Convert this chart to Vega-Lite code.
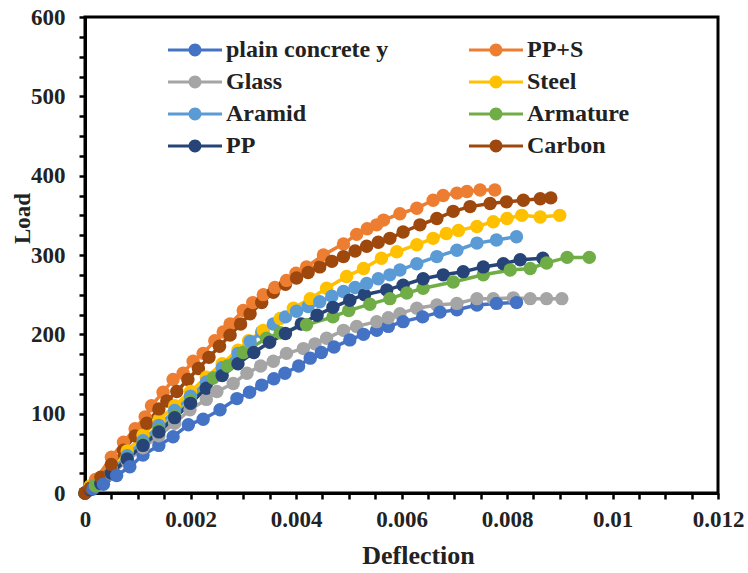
{
  "$schema": "https://vega.github.io/schema/vega-lite/v6.json",
  "width": 633,
  "height": 476,
  "autosize": {"type": "none"},
  "padding": {"left": 85, "top": 17, "right": 30, "bottom": 80},
  "background": "white",
  "config": {
    "view": {"stroke": "black", "strokeWidth": 3},
    "font": "Liberation Serif"
  },
  "datasets": {
    "d": [
      {"s":"plain concrete y","x":0,"y":0},{"s":"plain concrete y","x":0.00015,"y":5},{"s":"plain concrete y","x":0.00035,"y":11},{"s":"plain concrete y","x":0.0006,"y":22},{"s":"plain concrete y","x":0.00085,"y":33},{"s":"plain concrete y","x":0.0011,"y":48},{"s":"plain concrete y","x":0.0014,"y":60},{"s":"plain concrete y","x":0.00167,"y":71},{"s":"plain concrete y","x":0.00196,"y":86},{"s":"plain concrete y","x":0.00224,"y":93},{"s":"plain concrete y","x":0.00256,"y":105},{"s":"plain concrete y","x":0.00288,"y":119},{"s":"plain concrete y","x":0.00312,"y":127},{"s":"plain concrete y","x":0.00335,"y":136},{"s":"plain concrete y","x":0.00358,"y":144},{"s":"plain concrete y","x":0.00379,"y":151},{"s":"plain concrete y","x":0.00405,"y":160},{"s":"plain concrete y","x":0.00427,"y":170},{"s":"plain concrete y","x":0.00448,"y":177},{"s":"plain concrete y","x":0.00472,"y":184},{"s":"plain concrete y","x":0.00502,"y":193},{"s":"plain concrete y","x":0.00528,"y":200},{"s":"plain concrete y","x":0.00553,"y":205},{"s":"plain concrete y","x":0.00575,"y":210},{"s":"plain concrete y","x":0.00603,"y":216},{"s":"plain concrete y","x":0.0064,"y":222},{"s":"plain concrete y","x":0.00673,"y":228},{"s":"plain concrete y","x":0.00705,"y":231},{"s":"plain concrete y","x":0.00743,"y":237},{"s":"plain concrete y","x":0.0078,"y":239},{"s":"plain concrete y","x":0.00818,"y":240},

      {"s":"PP+S","x":0,"y":0},{"s":"PP+S","x":0.0002,"y":17},{"s":"PP+S","x":0.0005,"y":45},{"s":"PP+S","x":0.00073,"y":64},{"s":"PP+S","x":0.00095,"y":81},{"s":"PP+S","x":0.00114,"y":96},{"s":"PP+S","x":0.00126,"y":110},{"s":"PP+S","x":0.00148,"y":127},{"s":"PP+S","x":0.00167,"y":143},{"s":"PP+S","x":0.00186,"y":151},{"s":"PP+S","x":0.00205,"y":166},{"s":"PP+S","x":0.00224,"y":176},{"s":"PP+S","x":0.00246,"y":192},{"s":"PP+S","x":0.00262,"y":203},{"s":"PP+S","x":0.00275,"y":213},{"s":"PP+S","x":0.003,"y":230},{"s":"PP+S","x":0.00318,"y":240},{"s":"PP+S","x":0.00338,"y":250},{"s":"PP+S","x":0.0036,"y":259},{"s":"PP+S","x":0.00382,"y":268},{"s":"PP+S","x":0.004,"y":277},{"s":"PP+S","x":0.0042,"y":285},{"s":"PP+S","x":0.00452,"y":300},{"s":"PP+S","x":0.0049,"y":314},{"s":"PP+S","x":0.00515,"y":326},{"s":"PP+S","x":0.00535,"y":333},{"s":"PP+S","x":0.00553,"y":338},{"s":"PP+S","x":0.00566,"y":344},{"s":"PP+S","x":0.00597,"y":352},{"s":"PP+S","x":0.00629,"y":359},{"s":"PP+S","x":0.0066,"y":369},{"s":"PP+S","x":0.00679,"y":375},{"s":"PP+S","x":0.00705,"y":378},{"s":"PP+S","x":0.00724,"y":380},{"s":"PP+S","x":0.00749,"y":382},{"s":"PP+S","x":0.00777,"y":382},

      {"s":"Glass","x":0,"y":0},{"s":"Glass","x":0.0002,"y":9},{"s":"Glass","x":0.0005,"y":24},{"s":"Glass","x":0.0008,"y":40},{"s":"Glass","x":0.0011,"y":57},{"s":"Glass","x":0.0014,"y":72},{"s":"Glass","x":0.0017,"y":88},{"s":"Glass","x":0.00199,"y":105},{"s":"Glass","x":0.0023,"y":118},{"s":"Glass","x":0.0025,"y":128},{"s":"Glass","x":0.00281,"y":138},{"s":"Glass","x":0.00307,"y":151},{"s":"Glass","x":0.00333,"y":160},{"s":"Glass","x":0.00357,"y":166},{"s":"Glass","x":0.00382,"y":176},{"s":"Glass","x":0.00414,"y":182},{"s":"Glass","x":0.00436,"y":188},{"s":"Glass","x":0.00458,"y":195},{"s":"Glass","x":0.0049,"y":205},{"s":"Glass","x":0.00515,"y":210},{"s":"Glass","x":0.00553,"y":216},{"s":"Glass","x":0.00575,"y":221},{"s":"Glass","x":0.00597,"y":226},{"s":"Glass","x":0.00629,"y":233},{"s":"Glass","x":0.00667,"y":237},{"s":"Glass","x":0.00705,"y":239},{"s":"Glass","x":0.00743,"y":245},{"s":"Glass","x":0.00774,"y":245},{"s":"Glass","x":0.00812,"y":246},{"s":"Glass","x":0.00844,"y":245},{"s":"Glass","x":0.00875,"y":245},{"s":"Glass","x":0.00904,"y":245},

      {"s":"Steel","x":0,"y":0},{"s":"Steel","x":0.0001,"y":9},{"s":"Steel","x":0.0003,"y":20},{"s":"Steel","x":0.0005,"y":34},{"s":"Steel","x":0.0008,"y":53},{"s":"Steel","x":0.0011,"y":73},{"s":"Steel","x":0.0014,"y":92},{"s":"Steel","x":0.0017,"y":110},{"s":"Steel","x":0.002,"y":128},{"s":"Steel","x":0.0023,"y":146},{"s":"Steel","x":0.0026,"y":163},{"s":"Steel","x":0.0029,"y":180},{"s":"Steel","x":0.0031,"y":192},{"s":"Steel","x":0.00338,"y":205},{"s":"Steel","x":0.0037,"y":220},{"s":"Steel","x":0.00395,"y":233},{"s":"Steel","x":0.00427,"y":245},{"s":"Steel","x":0.00458,"y":258},{"s":"Steel","x":0.00496,"y":273},{"s":"Steel","x":0.00528,"y":283},{"s":"Steel","x":0.00562,"y":296},{"s":"Steel","x":0.00591,"y":304},{"s":"Steel","x":0.00629,"y":313},{"s":"Steel","x":0.0066,"y":321},{"s":"Steel","x":0.00685,"y":327},{"s":"Steel","x":0.00708,"y":331},{"s":"Steel","x":0.00743,"y":336},{"s":"Steel","x":0.00774,"y":342},{"s":"Steel","x":0.008,"y":346},{"s":"Steel","x":0.00828,"y":350},{"s":"Steel","x":0.00863,"y":348},{"s":"Steel","x":0.009,"y":350},

      {"s":"Aramid","x":0,"y":0},{"s":"Aramid","x":0.0002,"y":10},{"s":"Aramid","x":0.0005,"y":28},{"s":"Aramid","x":0.0008,"y":47},{"s":"Aramid","x":0.0011,"y":66},{"s":"Aramid","x":0.0014,"y":85},{"s":"Aramid","x":0.0017,"y":104},{"s":"Aramid","x":0.002,"y":122},{"s":"Aramid","x":0.0023,"y":140},{"s":"Aramid","x":0.0026,"y":158},{"s":"Aramid","x":0.0029,"y":176},{"s":"Aramid","x":0.00313,"y":191},{"s":"Aramid","x":0.00335,"y":203},{"s":"Aramid","x":0.00357,"y":213},{"s":"Aramid","x":0.0038,"y":222},{"s":"Aramid","x":0.00401,"y":229},{"s":"Aramid","x":0.00423,"y":235},{"s":"Aramid","x":0.00445,"y":241},{"s":"Aramid","x":0.00468,"y":248},{"s":"Aramid","x":0.0049,"y":254},{"s":"Aramid","x":0.00512,"y":259},{"s":"Aramid","x":0.00534,"y":264},{"s":"Aramid","x":0.00556,"y":270},{"s":"Aramid","x":0.00578,"y":275},{"s":"Aramid","x":0.00597,"y":281},{"s":"Aramid","x":0.00629,"y":289},{"s":"Aramid","x":0.00667,"y":298},{"s":"Aramid","x":0.00705,"y":306},{"s":"Aramid","x":0.00743,"y":315},{"s":"Aramid","x":0.0078,"y":319},{"s":"Aramid","x":0.00818,"y":323},

      {"s":"Armature","x":0,"y":0},{"s":"Armature","x":0.0002,"y":9},{"s":"Armature","x":0.0005,"y":25},{"s":"Armature","x":0.0008,"y":43},{"s":"Armature","x":0.0011,"y":61},{"s":"Armature","x":0.0014,"y":79},{"s":"Armature","x":0.0017,"y":97},{"s":"Armature","x":0.002,"y":116},{"s":"Armature","x":0.00243,"y":145},{"s":"Armature","x":0.0027,"y":160},{"s":"Armature","x":0.003,"y":177},{"s":"Armature","x":0.00344,"y":195},{"s":"Armature","x":0.0037,"y":202},{"s":"Armature","x":0.0042,"y":212},{"s":"Armature","x":0.0047,"y":222},{"s":"Armature","x":0.005,"y":230},{"s":"Armature","x":0.0054,"y":238},{"s":"Armature","x":0.00578,"y":245},{"s":"Armature","x":0.0061,"y":252},{"s":"Armature","x":0.00641,"y":258},{"s":"Armature","x":0.00698,"y":266},{"s":"Armature","x":0.00755,"y":275},{"s":"Armature","x":0.00806,"y":281},{"s":"Armature","x":0.00844,"y":283},{"s":"Armature","x":0.00875,"y":290},{"s":"Armature","x":0.00914,"y":297},{"s":"Armature","x":0.00956,"y":297},

      {"s":"PP","x":0,"y":0},{"s":"PP","x":0.0001,"y":4},{"s":"PP","x":0.0003,"y":12},{"s":"PP","x":0.0005,"y":25},{"s":"PP","x":0.0008,"y":43},{"s":"PP","x":0.0011,"y":60},{"s":"PP","x":0.0014,"y":77},{"s":"PP","x":0.0017,"y":95},{"s":"PP","x":0.002,"y":113},{"s":"PP","x":0.0023,"y":132},{"s":"PP","x":0.0026,"y":148},{"s":"PP","x":0.0029,"y":163},{"s":"PP","x":0.0032,"y":177},{"s":"PP","x":0.0035,"y":190},{"s":"PP","x":0.0038,"y":201},{"s":"PP","x":0.0041,"y":213},{"s":"PP","x":0.0044,"y":224},{"s":"PP","x":0.0047,"y":234},{"s":"PP","x":0.00502,"y":243},{"s":"PP","x":0.0053,"y":250},{"s":"PP","x":0.00572,"y":256},{"s":"PP","x":0.00603,"y":262},{"s":"PP","x":0.00641,"y":270},{"s":"PP","x":0.00679,"y":275},{"s":"PP","x":0.00717,"y":279},{"s":"PP","x":0.00755,"y":285},{"s":"PP","x":0.00793,"y":289},{"s":"PP","x":0.00825,"y":294},{"s":"PP","x":0.00868,"y":296},

      {"s":"Carbon","x":0,"y":0},{"s":"Carbon","x":0.0001,"y":6},{"s":"Carbon","x":0.0003,"y":20},{"s":"Carbon","x":0.0005,"y":36},{"s":"Carbon","x":0.00073,"y":54},{"s":"Carbon","x":0.00095,"y":72},{"s":"Carbon","x":0.00117,"y":88},{"s":"Carbon","x":0.0014,"y":106},{"s":"Carbon","x":0.00155,"y":116},{"s":"Carbon","x":0.00174,"y":128},{"s":"Carbon","x":0.00195,"y":143},{"s":"Carbon","x":0.00215,"y":157},{"s":"Carbon","x":0.00235,"y":171},{"s":"Carbon","x":0.00255,"y":185},{"s":"Carbon","x":0.00275,"y":199},{"s":"Carbon","x":0.00295,"y":213},{"s":"Carbon","x":0.00313,"y":226},{"s":"Carbon","x":0.00335,"y":240},{"s":"Carbon","x":0.00357,"y":253},{"s":"Carbon","x":0.0038,"y":263},{"s":"Carbon","x":0.00401,"y":271},{"s":"Carbon","x":0.00423,"y":278},{"s":"Carbon","x":0.00445,"y":285},{"s":"Carbon","x":0.00468,"y":292},{"s":"Carbon","x":0.0049,"y":298},{"s":"Carbon","x":0.00512,"y":305},{"s":"Carbon","x":0.00534,"y":311},{"s":"Carbon","x":0.00556,"y":316},{"s":"Carbon","x":0.00578,"y":321},{"s":"Carbon","x":0.00603,"y":329},{"s":"Carbon","x":0.00635,"y":338},{"s":"Carbon","x":0.00667,"y":346},{"s":"Carbon","x":0.00698,"y":355},{"s":"Carbon","x":0.0073,"y":361},{"s":"Carbon","x":0.00768,"y":365},{"s":"Carbon","x":0.00799,"y":367},{"s":"Carbon","x":0.00831,"y":369},{"s":"Carbon","x":0.00863,"y":371},{"s":"Carbon","x":0.00883,"y":372}
    ]
  },
  "data": {"name": "d"},
  "mark": {"type": "line", "strokeWidth": 3.5, "point": {"filled": true, "size": 180, "opacity": 1}},
  "encoding": {
    "x": {
      "field": "x", "type": "quantitative",
      "scale": {"domain": [0, 0.012], "nice": false, "zero": true},
      "axis": {
        "title": "Deflection",
        "values": [0,0.0005,0.001,0.0015,0.002,0.0025,0.003,0.0035,0.004,0.0045,0.005,0.0055,0.006,0.0065,0.007,0.0075,0.008,0.0085,0.009,0.0095,0.01,0.0105,0.011,0.0115,0.012],
        "labelExpr": "round(datum.value*10000) % 20 == 0 ? toString(datum.value) : ''",
        "grid": false, "domainColor": "black", "domainWidth": 3,
        "tickColor": "black", "tickWidth": 2.5, "tickSize": 6,
        "labelFont": "Liberation Serif", "labelFontWeight": "bold", "labelFontSize": 23, "labelColor": "#222",
        "labelPadding": 9, "labelFlush": false, "labelOverlap": false,
        "titleFont": "Liberation Serif", "titleFontWeight": "bold", "titleFontSize": 26, "titleColor": "#222",
        "titleBaseline": "middle", "titleY": 62, "titleX": 333
      }
    },
    "y": {
      "field": "y", "type": "quantitative",
      "scale": {"domain": [0, 600], "nice": false},
      "axis": {
        "title": "Load",
        "values": [0,25,50,75,100,125,150,175,200,225,250,275,300,325,350,375,400,425,450,475,500,525,550,575,600],
        "labelExpr": "datum.value % 100 == 0 ? toString(datum.value) : ''",
        "grid": false, "domainColor": "black", "domainWidth": 3,
        "tickColor": "black", "tickWidth": 2.5, "tickSize": 6,
        "labelFont": "Liberation Serif", "labelFontWeight": "bold", "labelFontSize": 23, "labelColor": "#222",
        "labelPadding": 14, "labelFlush": false, "labelOverlap": false,
        "titleFont": "Liberation Serif", "titleFontWeight": "bold", "titleFontSize": 23, "titleColor": "#222",
        "titleBaseline": "middle", "titleX": -63, "titleY": 201, "titleAngle": -90
      }
    },
    "color": {
      "field": "s", "type": "nominal",
      "scale": {
        "domain": ["plain concrete y","Glass","Aramid","PP","PP+S","Steel","Armature","Carbon"],
        "range": ["#4472C4","#A5A5A5","#5B9BD5","#264478","#ED7D31","#FFC000","#70AD47","#9E480E"]
      },
      "legend": {
        "title": null, "orient": "none", "legendX": 83, "legendY": 17, "columns": 2, "padding": 0,
        "clipHeight": 32,
        "symbolType": "M-1,-0.055L1,-0.055L1,0.055L-1,0.055Z M0.24,0A0.24,0.24 0 1,1 -0.24,0A0.24,0.24 0 1,1 0.24,0Z",
        "symbolSize": 2916, "symbolStrokeWidth": 0,
        "labelFont": "Liberation Serif", "labelFontWeight": "bold", "labelFontSize": 24, "labelColor": "#222",
        "labelOffset": 4, "rowPadding": 0, "columnPadding": 80, "labelLimit": 400,
        "encode": {"symbols": {"update": {"fill": {"scale": "color", "field": "value"}, "stroke": {"value": "transparent"}, "opacity": {"value": 1}}}}
      }
    },
    "order": {"field": "x", "type": "quantitative"}
  }
}
